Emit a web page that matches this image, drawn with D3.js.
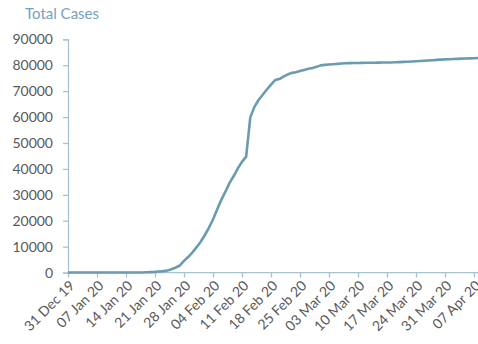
<!DOCTYPE html>
<html>
<head>
<meta charset="utf-8">
<script src="https://cdn.jsdelivr.net/npm/d3@7"></script>
<style>
  html, body { margin: 0; padding: 0; background: #fff; }
  svg { display: block; }
  text { font-family: Lato, "Open Sans", sans-serif; }
</style>
</head>
<body>
<svg id="chart" width="478" height="344"></svg>
<script>
// Cumulative confirmed cases, one value per day starting 31 Dec 2019
const startDate = "2019-12-31";
const totalCases = [
  27, 27, 27, 44, 44, 59, 59, 59, 59, 59, 59, 59, 59, 59, 59, 59, 59, 59, 62, 121,
  198, 291, 440, 571, 832, 1290, 1980, 2752, 4525, 5987, 7725, 9710, 11815, 14405,
  17235, 20470, 24360, 28060, 31205, 34595, 37250, 40230, 42705, 44725, 59880,
  63930, 66575, 68590, 70640, 72530, 74285, 74680, 75575, 76400, 77050, 77265,
  77770, 78180, 78615, 78940, 79365, 79934, 80141, 80266, 80385, 80524, 80669,
  80769, 80819, 80860, 80884, 80914, 80932, 80954, 80971, 81002, 81028, 81055,
  81074, 81135, 81192, 81282, 81347, 81434, 81552, 81630, 81724, 81826, 81946,
  82058, 82149, 82239, 82309, 82395, 82463, 82527, 82575, 82642, 82698, 82781
];
const yTicks = [0, 10000, 20000, 30000, 40000, 50000, 60000, 70000, 80000, 90000];
const xTickLabels = ["31 Dec 19", "07 Jan 20", "14 Jan 20", "21 Jan 20", "28 Jan 20",
  "04 Feb 20", "11 Feb 20", "18 Feb 20", "25 Feb 20", "03 Mar 20", "10 Mar 20",
  "17 Mar 20", "24 Mar 20", "31 Mar 20", "07 Apr 20"];
const chartTitle = "Total Cases";

const parseDate = d3.timeParse("%Y-%m-%d");
const t0 = parseDate(startDate);
const series = totalCases.map((v, i) => ({ date: d3.timeDay.offset(t0, i), value: v }));
const tickDates = xTickLabels.map((_, i) => d3.timeDay.offset(t0, i * 7));

const svg = d3.select("#chart");
const axisColor = "#a9c2d0";
const labelColor = "#595959";
const lineColor = "#6a9bb0";

// the plot runs on past the right edge of the frame
const x = d3.scaleTime()
  .domain([t0, d3.timeDay.offset(t0, 98)])
  .range([68, 474]);
const y = d3.scaleLinear()
  .domain([0, 90000])
  .range([272.6, 39.3]);

// title
svg.append("text")
  .attr("x", 25).attr("y", 19)
  .attr("fill", "#74a2c0")
  .attr("font-size", 15)
  .text(chartTitle);

// y axis
const yAxis = svg.append("g")
  .attr("transform", "translate(68,0)")
  .call(d3.axisLeft(y).tickValues(yTicks).tickSize(5).tickPadding(10).tickFormat(d3.format("d")));
yAxis.select(".domain").attr("stroke", axisColor).attr("stroke-width", 1.3);
yAxis.selectAll(".tick line").attr("stroke", axisColor).attr("stroke-width", 1.3);
yAxis.selectAll(".tick text")
  .attr("fill", labelColor)
  .attr("font-size", 14)
  .attr("font-family", "Lato, sans-serif");

// x axis
const xAxis = svg.append("g")
  .attr("transform", `translate(0,${y(0)})`)
  .call(d3.axisBottom(x).tickValues(tickDates).tickSize(5).tickSizeOuter(0)
    .tickFormat((d, i) => xTickLabels[i]));
xAxis.select(".domain").attr("stroke", axisColor).attr("stroke-width", 1.3)
  .attr("d", `M68,0H${x(d3.timeDay.offset(t0, 105))}`);
xAxis.selectAll(".tick line").attr("stroke", axisColor).attr("stroke-width", 1.3);
xAxis.selectAll(".tick text")
  .attr("fill", labelColor)
  .attr("font-size", 14)
  .attr("font-family", "Lato, sans-serif")
  .attr("text-anchor", "end")
  .attr("dy", null)
  .attr("y", null)
  .attr("transform", "translate(7,14) rotate(-45)");

// cumulative case line
const line = d3.line()
  .x(d => x(d.date))
  .y(d => y(d.value));

svg.append("path")
  .datum(series)
  .attr("fill", "none")
  .attr("stroke", lineColor)
  .attr("stroke-width", 2.6)
  .attr("stroke-linejoin", "round")
  .attr("d", line);
</script>
</body>
</html>
